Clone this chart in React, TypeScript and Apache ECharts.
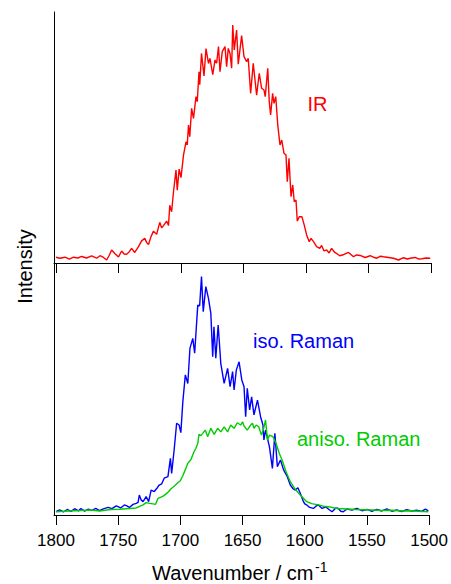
import React, { useEffect, useRef } from "react";
import * as echarts from "echarts";

// ---- IR (top panel) ----
const irWn = [
  1800, 1796.8, 1792.8, 1789.3, 1786, 1782.5, 1779.5, 1775.5, 1771.5, 1767.5, 1764.8, 1762, 1759.5, 1757.5,
  1755.5, 1753, 1750, 1747.5, 1745.5, 1743.5, 1741.5, 1739.5, 1737, 1734, 1731.5, 1729, 1727.5, 1726, 1724,
  1722, 1719.5, 1717, 1715.5, 1714, 1711.5, 1710, 1709, 1707.5, 1706, 1704, 1703, 1701.5, 1700, 1698, 1696,
  1695, 1694, 1693, 1691.5, 1690, 1688, 1687, 1685.6, 1685, 1683.6, 1681.6, 1680, 1678, 1676.8, 1674.6,
  1672.8, 1671.5, 1670, 1668.8, 1667, 1664.8, 1663.5, 1662.2, 1660.8, 1659.5, 1658.6, 1657.4, 1655.5, 1654.2,
  1651.5, 1649.6, 1647.5, 1646.2, 1644.3, 1642.2, 1640.8, 1639.5, 1637.4, 1635.5, 1633.6, 1632.6, 1630.6,
  1629.4, 1628.3, 1626.7, 1625.6, 1624.2, 1622.6, 1620.8, 1619.4, 1617.6, 1616, 1615, 1613.6, 1612, 1610.6,
  1609.4, 1608, 1607, 1605.4, 1603.2, 1601.4, 1599.5, 1597.4, 1596, 1594, 1591.5, 1589, 1587.5, 1585.6,
  1583.5, 1581.5, 1579.5, 1577, 1575, 1573, 1569.6, 1566, 1562, 1559.5, 1556.7, 1552.7, 1548.7, 1546, 1543.3,
  1540.5, 1538, 1534, 1530, 1526, 1522, 1519, 1516.7, 1512.7, 1510, 1507.3, 1504, 1500.6,
];
const irVal = [
  2.3, 1.9, 2.3, 1.5, 2.3, 2.0, 2.6, 2.0, 2.8, 1.9, 2.9, 2.2, 1.2, 3.0,
  5.2, 3.8, 2.4, 4.8, 3.6, 3.5, 4.4, 5.8, 4.2, 6.5, 8.8, 9.8, 8.2, 7.4, 10.5,
  12.7, 11.4, 16.2, 14.0, 14.9, 16.7, 14.9, 23, 20.4, 28.4, 37, 29, 37.4, 34, 43, 48.3,
  47, 55, 50.3, 61.6, 57.6, 66.3, 64.3, 76.2, 71, 83.5, 74.5, 85.4, 79.5, 81.5, 75,
  80.9, 79.6, 86.2, 76.2, 84.2, 86.2, 78.2, 85.5, 83.5, 77.6, 94.8, 84.9, 92.8, 79.2,
  90.6, 82.2, 80.2, 81.5, 67.6, 79.6, 72.9, 66.9, 75.6, 69.6, 68.9, 66.3, 77.6,
  64.3, 59, 67.6, 63.6, 66.3, 55, 47, 49, 43.7, 43, 32.4, 41.7, 26.4, 31.1,
  24.4, 25.1, 16.7, 18.4, 18.4, 15.1, 11.2, 8.5, 9.8, 8.5, 6.5, 5.8, 7.0, 4.8,
  5.2, 4.0, 5.8, 4.2, 3.6, 2.9, 3.4, 4.2, 2.5, 3.2, 3.0, 2.2, 2.9, 2.3, 1.9,
  2.7, 2.5, 2.2, 1.9, 1.2, 2.1, 1.6, 1.9, 2.2, 1.6, 1.7, 2.0, 1.9,
];

// ---- iso. Raman (bottom panel, blue) ----
const isoWn = [
  1800, 1797, 1794, 1791, 1788, 1785, 1782, 1780, 1777, 1774, 1771, 1768, 1765, 1762, 1758, 1755, 1751.5,
  1748, 1745, 1743, 1741, 1738, 1735.5, 1734, 1733, 1731.5, 1730, 1727.5, 1725.5, 1723.5, 1721, 1719, 1717,
  1715, 1713, 1710, 1708, 1707, 1705, 1703, 1701, 1699.6, 1698, 1696, 1694, 1692.3, 1690, 1688.5, 1686,
  1684.5, 1683, 1681.6, 1679.5, 1677.4, 1675.5, 1674, 1673, 1671.5, 1669.6, 1667.5, 1664.8, 1662, 1660,
  1658, 1656.8, 1655, 1652.8, 1650.6, 1648.8, 1647.5, 1646.2, 1644.3, 1642.7, 1640.8, 1638, 1635.5, 1633.6,
  1632.8, 1631.5, 1628.4, 1626, 1624, 1622, 1619.5, 1617, 1614, 1611.6, 1609.5, 1607.6, 1605.5, 1603.6,
  1601, 1600, 1598.4, 1596, 1593, 1591, 1589, 1586, 1583, 1580, 1578, 1575, 1573, 1571, 1569, 1566, 1562,
  1558, 1554, 1550, 1546, 1542, 1538, 1534, 1530, 1526, 1522, 1518, 1514, 1510, 1506, 1503, 1500.6,
];
const isoVal = [
  1.3, 2.0, 1.2, 2.2, 1.4, 2.5, 1.6, 2.6, 1.5, 2.3, 1.8, 2.6, 1.7, 2.4, 3.0, 2.5, 3.6,
  2.8, 4.0, 3.6, 3.0, 4.2, 4.6, 5.0, 7.9, 6.0, 5.3, 7.3, 5.3, 9.9, 9.3, 10.5, 11.9,
  12.4, 14.6, 15.2, 22.5, 16.5, 25.8, 36.4, 35.7, 32.7, 45, 55.6, 52.2, 66.1, 70.1, 64.2, 83.3,
  83, 94.6, 80.7, 90.6, 86, 80, 62.8, 74.7, 62.2, 75.4, 60.2, 52.2, 58.2, 50.9,
  56.9, 49.6, 57.5, 60.8, 53.6, 50.9, 39, 50.3, 41.7, 46.9, 39.7, 45.6, 39, 35.7,
  29.8, 33.7, 27.1, 18.5, 32.4, 19.2, 21.8, 17.9, 15.2, 11.9, 10.5, 9.9, 10.8, 8.6,
  5.3, 4.4, 4.0, 3.0, 2.6, 3.5, 4.0, 2.6, 3.2, 2.0, 1.3, 2.8, 2.6, 1.5, 1.3, 2.4, 2.0,
  2.6, 1.7, 2.2, 1.5, 2.2, 1.6, 2.4, 1.5, 2.0, 1.4, 2.1, 1.6, 1.9, 1.4, 2.3, 1.6,
];

// ---- aniso. Raman (bottom panel, green) ----
const anisoWn = [
  1800, 1790, 1780, 1772.8, 1764.8, 1756, 1748.8, 1741, 1735.5, 1730, 1727.5, 1724.8, 1722, 1720, 1718, 1716,
  1713.5, 1711.5, 1709.5, 1707.5, 1704.8, 1702, 1700, 1698, 1696, 1694, 1691.5, 1689, 1687.5, 1686, 1685,
  1683.6, 1682, 1680, 1678, 1675.5, 1672.8, 1670, 1667.5, 1664.8, 1662, 1659.5, 1656.8, 1654.2, 1651.5, 1650,
  1648.8, 1646.2, 1643.5, 1642, 1640.8, 1639, 1637, 1634.8, 1633, 1631.5, 1630, 1628.3, 1625.6, 1623, 1620.5,
  1618.2, 1615, 1611.6, 1607.6, 1603.6, 1598.4, 1594.4, 1589, 1585, 1581, 1576, 1573, 1566, 1559.5, 1553,
  1546, 1538, 1530, 1522, 1515, 1508, 1500.6,
];
const anisoVal = [
  1.3, 1.6, 1.8, 2.0, 1.6, 2.2, 2.3, 2.6, 2.8, 4.0, 4.9, 4.6, 4.4, 4.2, 6.6, 7.0,
  7.6, 8.4, 9.2, 10.4, 11.5, 12.8, 13.6, 15.6, 18.0, 20.5, 22.0, 25.1, 26.5, 28.4, 32.0,
  31.5, 32.4, 33.7, 31.1, 34.4, 32.0, 34.4, 33, 35, 33, 35.7, 34.4, 36.6, 35.7, 37,
  35.3, 33.7, 35.7, 36.4, 34.4, 35.7, 35, 31.7, 34.4, 37.7, 29.8, 31.7, 31.1, 28.4, 24.5,
  21.8, 17.2, 13.2, 10.2, 7.9, 5.3, 4.5, 4.0, 3.5, 3.3, 2.8, 2.6, 2.4, 2.2, 2.1,
  2.0, 1.8, 1.9, 1.6, 1.7, 1.5, 1.3,
];

const tickValues = [1800, 1750, 1700, 1650, 1600, 1550, 1500];

const FONT = '"Liberation Sans", Arial, Helvetica, sans-serif';

export default function App() {
  const ref = useRef<HTMLDivElement>(null);

  useEffect(() => {
    if (!ref.current) return;
    const chart = echarts.init(ref.current, null, { renderer: "svg" });
    const pair = (xs: number[], ys: number[]) => xs.map((x, i) => [x, ys[i]]);

    const xAxisBase = (gridIndex: number, showLabels: boolean) => ({
      type: "value",
      gridIndex,
      min: 1500,
      max: 1801.6,
      inverse: true,
      axisLine: { show: true, onZero: false, lineStyle: { color: "#000", width: 1 } },
      axisTick: {
        show: true,
        inside: false,
        length: 10,
        customValues: tickValues,
        lineStyle: { color: "#000", width: 1 },
      },
      axisLabel: {
        show: showLabels,
        customValues: tickValues,
        formatter: (v: number) => String(v),
        color: "#000",
        fontSize: 17,
        fontFamily: FONT,
        margin: 17,
      },
      splitLine: { show: false },
    });

    const yAxisBase = (gridIndex: number) => ({
      type: "value",
      gridIndex,
      min: 0,
      max: 100,
      axisLine: { show: true, onZero: false, lineStyle: { color: "#000", width: 1 } },
      axisTick: { show: false },
      axisLabel: { show: false },
      splitLine: { show: false },
    });

    const txt = (text: string, x: number, y: number, color: string, size: number, extra: any = {}) => ({
      type: "text",
      x,
      y,
      silent: true,
      ...extra,
      style: {
        text,
        fill: color,
        fontSize: size,
        fontFamily: FONT,
        align: extra.align || "left",
        verticalAlign: "middle",
      },
    });

    chart.setOption({
      animation: false,
      backgroundColor: "#ffffff",
      grid: [
        { left: 54, top: 12, width: 377, height: 251 },
        { left: 54, top: 263, width: 377, height: 252 },
      ],
      xAxis: [xAxisBase(0, false), xAxisBase(1, true)],
      yAxis: [yAxisBase(0), yAxisBase(1)],
      series: [
        {
          type: "line",
          name: "IR",
          xAxisIndex: 0,
          yAxisIndex: 0,
          data: pair(irWn, irVal),
          showSymbol: false,
          silent: true,
          lineStyle: { color: "#ff0000", width: 1.4 },
          itemStyle: { color: "#ff0000" },
        },
        {
          type: "line",
          name: "iso. Raman",
          xAxisIndex: 1,
          yAxisIndex: 1,
          data: pair(isoWn, isoVal),
          showSymbol: false,
          silent: true,
          lineStyle: { color: "#0000ff", width: 1.4 },
          itemStyle: { color: "#0000ff" },
        },
        {
          type: "line",
          name: "aniso. Raman",
          xAxisIndex: 1,
          yAxisIndex: 1,
          data: pair(anisoWn, anisoVal),
          showSymbol: false,
          silent: true,
          lineStyle: { color: "#00cc00", width: 1.4 },
          itemStyle: { color: "#00cc00" },
        },
      ],
      graphic: [
        txt("IR", 307.5, 104, "#ff0000", 20),
        txt("iso. Raman", 253, 340.5, "#0000ff", 20),
        txt("aniso. Raman", 297, 439, "#00cc00", 20),
        txt("Wavenumber / cm", 152, 573, "#000000", 20),
        txt("-1", 315, 567, "#000000", 14),
        txt("Intensity", 25, 266.5, "#000000", 20, { rotation: Math.PI / 2, align: "center" }),
      ],
    });

    return () => chart.dispose();
  }, []);

  return (
    <div
      ref={ref}
      style={{ position: "absolute", left: 0, top: 0, width: 451, height: 584, background: "#fff" }}
    />
  );
}
